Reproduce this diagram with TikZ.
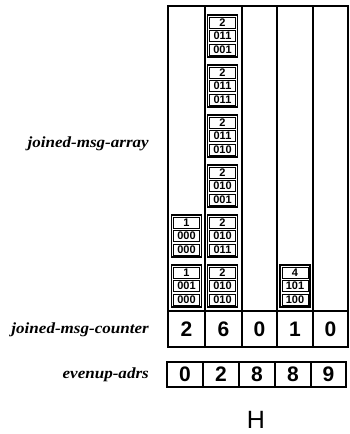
\documentclass[tikz,border=0pt]{standalone}
\usepackage{fontspec}
\setmainfont{Liberation Serif}
\newfontfamily\lblfont[FakeStretch=1.1]{Liberation Serif}
\newfontfamily\digfont{Liberation Sans}

% one message block: frame with three stacked cells
% #1 name, #2 left x, #3 top y, #4 #5 #6 cell texts
\newcommand\msgblock[6]{%
  \node[blockframe, anchor=north west] (#1) at (#2,#3) {};
  \node[cellbox, anchor=north west] (#1-a) at (#2+2,#3+2) {#4};
  \node[cellbox, anchor=north west] (#1-b) at (#2+2,#3+15.5) {#5};
  \node[cellbox, anchor=north west] (#1-c) at (#2+2,#3+29) {#6};
}

\begin{document}
\begin{tikzpicture}[x=1pt,y=-1pt,
  gridline/.style={line width=1.7pt},
  blockframe/.style={draw, line width=1.4pt, minimum width=30pt, minimum height=42pt, inner sep=0pt, outer sep=0pt},
  cellbox/.style={draw, line width=1pt, fill=white, minimum width=26pt, minimum height=11pt,
    inner sep=0pt, outer sep=0pt, font=\digfont\bfseries\fontsize{11}{11}\selectfont},
  bigdigit/.style={font=\digfont\bfseries\fontsize{21}{21}\selectfont, inner sep=0pt},
  adrcell/.style={draw, line width=1.5pt, minimum width=36pt, minimum height=25pt, inner sep=0pt, outer sep=0pt,
    font=\digfont\bfseries\fontsize{21}{21}\selectfont},
  lbl/.style={font=\lblfont\bfseries\itshape\fontsize{15.5}{16}\selectfont, anchor=east, inner sep=0pt}]

\useasboundingbox (0,0) rectangle (349,434);
\fill[white] (0,0) rectangle (349,434);

% array and counter frame
\draw[gridline] (168,6) rectangle (348,347);
\draw[gridline] (168,311) -- (348,311);
\foreach \cx in {205,242,277,313} \draw[gridline] (\cx,6) -- (\cx,347);

% column 1
\msgblock{m11}{171.5}{215}{1}{000}{000}
\msgblock{m12}{171.5}{265}{1}{001}{000}
% column 2
\msgblock{m21}{207.5}{15}{2}{011}{001}
\msgblock{m22}{207.5}{65}{2}{011}{011}
\msgblock{m23}{207.5}{115}{2}{011}{010}
\msgblock{m24}{207.5}{165}{2}{010}{001}
\msgblock{m25}{207.5}{215}{2}{010}{011}
\msgblock{m26}{207.5}{265}{2}{010}{010}
% column 4
\msgblock{m41}{280}{265}{4}{101}{100}

% counter row
\node[bigdigit] (c1) at (186.5,329.5) {2};
\node[bigdigit] (c2) at (223.5,329.5) {6};
\node[bigdigit] (c3) at (259.5,329.5) {0};
\node[bigdigit] (c4) at (295,329.5) {1};
\node[bigdigit] (c5) at (330.5,329.5) {0};

% evenup address row
\node[adrcell] (e1) at (185,374.5) {0};
\node[adrcell] (e2) at (221,374.5) {2};
\node[adrcell] (e3) at (257,374.5) {8};
\node[adrcell] (e4) at (293,374.5) {8};
\node[adrcell, minimum width=35pt] (e5) at (328.5,374.5) {9};

\node[font=\digfont\fontsize{25}{25}\selectfont, inner sep=0pt] (hlabel) at (256,420) {H};

% row labels
\node[lbl] (larray) at (149,144) {joined-msg-array};
\node[lbl] (lcounter) at (149,330) {joined-msg-counter};
\node[lbl] (ladrs) at (149,375) {evenup-adrs};
\end{tikzpicture}
\end{document}
